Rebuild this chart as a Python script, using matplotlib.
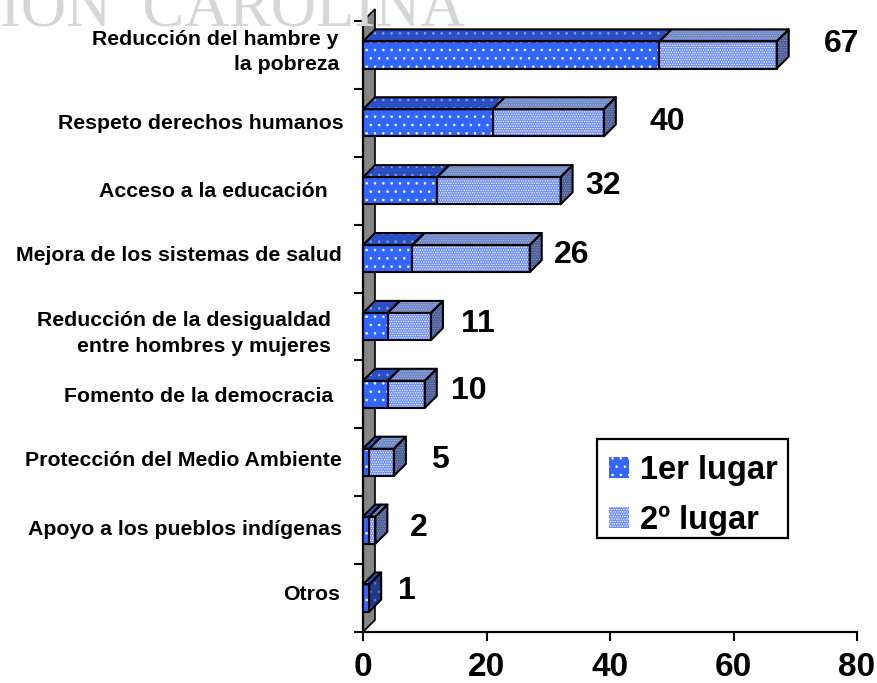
# -- IMPORTED LIBRARIES -- #
import matplotlib
matplotlib.use('Agg')
import matplotlib.pyplot as plt
from matplotlib.patches import Patch, Polygon, Rectangle

plt.rcParams['font.family'] = ['Liberation Sans', 'DejaVu Sans']
plt.rcParams['hatch.linewidth'] = 0.6

# -- DATA -- #
categories = ['Reducción del hambre y\nla pobreza', 'Respeto derechos humanos', 'Acceso a la educación',
              'Mejora de los sistemas de salud', 'Reducción de la desigualdad\nentre hombres y mujeres',
              'Fomento de la democracia', 'Protección del Medio Ambiente', 'Apoyo a los pueblos indígenas', 'Otros']
first_place = [48, 21, 12, 8, 4, 4, 1, 1, 1]
second_place = [19, 18, 20, 19, 7, 6, 4, 1, 0]
total_labels = ['67', '40', '32', '26', '11', '10', '5', '2', '1']
x_ticks = [0, 20, 40, 60, 80]
legend_labels = ['1er lugar', '2º lugar']

# -- MANUAL LABEL PLACEMENT (pixels) -- #
cat_right = [339, 344, 328, 342, 331, 333, 342, 342, 340]
cat_dy = [-3, 1, 1, -3, 7, 2, -2, -1, -4]
val_gap = [35, 34, 13, 12, 18, 14, 25, 23, 17]
val_dy = [-11, -1, -5, -4, -3, -3, -2, -2, -7]

# -- COLOURS -- #
front1, top1, side1 = '#3366ff', '#2a4fc4', '#1f3a8c'
front2, top2, side2 = '#6f8fff', '#6f86c6', '#4a5d96'
dot_top1, dot_top2, dot_side2, dot_side1 = '#8c9fd8', '#a6b4dc', '#8794bc', '#6a7db8'

W, H = 877, 683
X0, X1, Y0, Y1 = 363, 857, 21, 632
DEPTH = 12
BAR_H = 0.4


def face(ax, pts, color, hatch, dots='white'):
    """ Draws one face of a bar: hatched fill first, black outline on top """
    ax.add_patch(Polygon(pts, closed=True, facecolor=color, edgecolor=dots, hatch=hatch,
                         linewidth=0, zorder=3, clip_on=False))
    ax.add_patch(Polygon(pts, closed=True, fill=False, edgecolor='black', linewidth=1.5,
                         joinstyle='round', zorder=4, clip_on=False))


fig = plt.figure(figsize=(W / 100, H / 100), dpi=100)

# -- WATERMARK CUT AT THE TOP OF THE SCAN -- #
fig.text(0 / W, 1 - 26 / H, 'ION  CAROLINA', family='Liberation Serif', fontsize=45, color='#d6d6d6',
         ha='left', va='baseline', zorder=0)

ax = fig.add_axes([X0 / W, 1 - Y1 / H, (X1 - X0) / W, (Y1 - Y0) / H])
ax.patch.set_alpha(0)
ax.set_xlim(0, 80)
ax.set_ylim(9, 0)
dx = DEPTH * 80 / (X1 - X0)
dy = DEPTH * 9 / (Y1 - Y0)

# -- BACK WALL -- #
ax.add_patch(Polygon([(0, 0), (dx, -dy), (dx, 9 - dy), (0, 9)], closed=True, facecolor='#858585',
                     edgecolor='black', linewidth=1.2, zorder=1, clip_on=False))

# -- BARS -- #
for i in range(len(categories)):
    y = i + 0.5
    y_top, y_bot = y - BAR_H / 2, y + BAR_H / 2
    a, b = first_place[i], first_place[i] + second_place[i]
    # top faces
    face(ax, [(0, y_top), (dx, y_top - dy), (a + dx, y_top - dy), (a, y_top)], top1, '..', dot_top1)
    if second_place[i] > 0:
        face(ax, [(a, y_top), (a + dx, y_top - dy), (b + dx, y_top - dy), (b, y_top)], top2, '.......', dot_top2)
    # end face
    if second_place[i] > 0:
        face(ax, [(b, y_top), (b + dx, y_top - dy), (b + dx, y_bot - dy), (b, y_bot)], side2, '.......', dot_side2)
    else:
        face(ax, [(b, y_top), (b + dx, y_top - dy), (b + dx, y_bot - dy), (b, y_bot)], side1, '..', dot_side1)
    # front faces
    face(ax, [(0, y_top), (a, y_top), (a, y_bot), (0, y_bot)], front1, '..')
    if second_place[i] > 0:
        face(ax, [(a, y_top), (b, y_top), (b, y_bot), (a, y_bot)], front2, '.......')

    # -- VALUE LABELS -- #
    ax.annotate(total_labels[i], xy=(b + dx, y), xytext=(val_gap[i] * 0.72, -val_dy[i] * 0.72),
                textcoords='offset points', ha='left', va='center', fontsize=23, fontweight='bold', zorder=5)
    # -- CATEGORY LABELS -- #
    ax.annotate(categories[i], xy=(0, y), xytext=((cat_right[i] - X0) * 0.72, -cat_dy[i] * 0.72),
                textcoords='offset points', ha='right', va='center', multialignment='right',
                fontsize=15.3, fontweight='bold', linespacing=1.4)

# -- AXES -- #
for side in ('top', 'right'):
    ax.spines[side].set_visible(False)
for side in ('left', 'bottom'):
    ax.spines[side].set_linewidth(1.6)
ax.set_xticks(x_ticks)
ax.set_yticks(range(10))
ax.set_yticklabels([])
ax.tick_params(axis='both', length=6.5, width=1.5)
ax.tick_params(axis='x', pad=8, labelsize=24)
for lab in ax.get_xticklabels():
    lab.set_fontweight('bold')

# -- LEGEND: BOX DRAWN APART SO THE ENTRIES CAN SIT LOW IN IT -- #
ax.add_patch(Rectangle((597 / W, 1 - 538 / H), 191 / W, 99 / H, transform=fig.transFigure, facecolor='white',
                       edgecolor='black', linewidth=1.6, zorder=6, clip_on=False))
handles = [Patch(facecolor=front1, edgecolor='white', hatch='..'),
           Patch(facecolor=front2, edgecolor='white', hatch='.......')]
leg = ax.legend(handles, legend_labels, loc='upper left', bbox_to_anchor=((599 - X0) / (X1 - X0), 1 - (445 - Y0) / (Y1 - Y0)),
                borderaxespad=0, frameon=False, handlelength=0.62, handleheight=0.62,
                handletextpad=0.33, labelspacing=0.6, borderpad=0.3, prop={'size': 23.5, 'weight': 'bold'})
leg.set_zorder(7)
for h in leg.legend_handles:
    h.set_linewidth(0)

fig.savefig('out.png', dpi=100)
plt.close(fig)
